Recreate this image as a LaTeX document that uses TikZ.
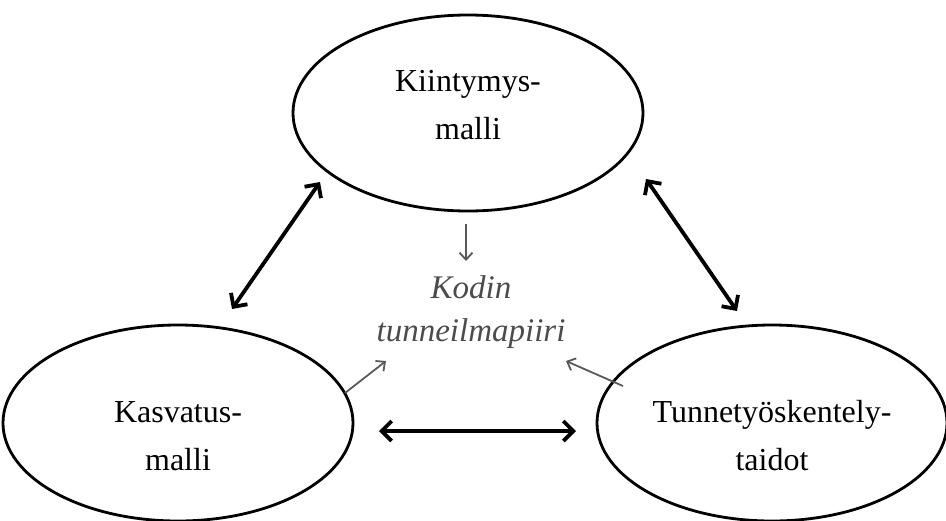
\documentclass[tikz,border=0pt]{standalone}
\usepackage{fontspec}
\setmainfont{Liberation Serif}
\usetikzlibrary{shapes.geometric,arrows.meta}
\begin{document}
\begin{tikzpicture}[x=1pt,y=-1pt,
  oval/.style={ellipse,draw,line width=2.8pt,minimum width=350pt,minimum height=196pt,inner sep=0pt},
  lbl/.style={align=center,font=\fontsize{32}{48}\selectfont},
  big/.style={line width=3.8pt,{Straight Barb[length=10pt,width=20pt]}-{Straight Barb[length=10pt,width=20pt]}},
  small/.style={draw=black!65, line width=1.8pt,-{Straight Barb[length=7pt,width=13pt]}},
  centre/.style={align=center,text=black!70,font=\itshape\fontsize{33}{43}\selectfont}]
\useasboundingbox (0,0) rectangle (946,520);
\node[oval] (K) at (468,113) {};
\node[oval] (L) at (178,423) {};
\node[oval] (R) at (772,423) {};
\node[lbl] (Kt) at ([yshift=8pt]K.center) {Kiintymys-\\malli};
\node[lbl] (Lt) at ([yshift=-13pt]L.center) {Kasvatus-\\malli};
\node[lbl] (Rt) at ([yshift=-13pt]R.center) {Tunnetyöskentely-\\taidot};
\node[centre] (C) at (471,312) {Kodin\\tunneilmapiiri};
\coordinate (a1) at (320,182);
\coordinate (a2) at (232,309);
\coordinate (b1) at (646,179);
\coordinate (b2) at (737,311);
\coordinate (c1) at (379,431);
\coordinate (c2) at (576,431);
\coordinate (d1) at (466,224);
\coordinate (d2) at (466,261);
\coordinate (e1) at (345,393);
\coordinate (e2) at (386,361);
\coordinate (f1) at (623,386);
\coordinate (f2) at (566,361);
\draw[big] (a2) -- (a1);
\draw[big] (b1) -- (b2);
\draw[big] (c1) -- (c2);
\draw[small] (d1) -- (d2);
\draw[small] (e1) -- (e2);
\draw[small] (f1) -- (f2);
\end{tikzpicture}
\end{document}
